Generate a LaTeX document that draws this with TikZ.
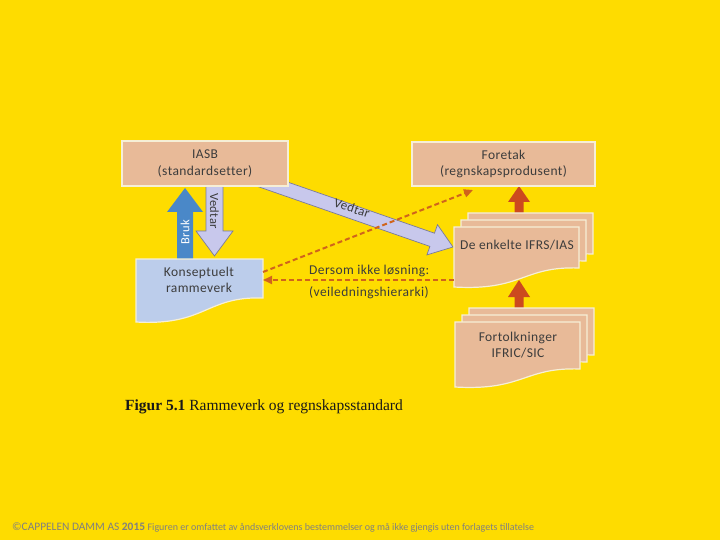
\documentclass[tikz,border=0pt]{standalone}
\usepackage{fontspec}
\setmainfont{Carlito}
\newfontfamily\boxfont[LetterSpace=3,Ligatures=NoCommon]{Carlito}
\newfontfamily\capfont{Liberation Serif}
\usetikzlibrary{arrows.meta,calc}
\definecolor{bg}{HTML}{FEDC00}
\definecolor{salmon}{HTML}{E8BA98}
\definecolor{lblue}{HTML}{BCCDEB}
\definecolor{lav}{HTML}{C8C8EC}
\definecolor{lavedge}{HTML}{7A7A98}
\definecolor{bluearr}{HTML}{4A88C8}
\definecolor{redarr}{HTML}{CC4A1E}
\definecolor{dashc}{HTML}{D0641C}
\definecolor{txt}{HTML}{3C3C3C}
\definecolor{edgec}{HTML}{F6EFD6}
\newcommand\docpath[6]{%
  \filldraw[fill=#1,draw=edgec,line width=1.2pt] (#2,#3) -- ++(#4,0) -- ++(0,#5)
   .. controls +(-0.45*#4,-2) and +(0.55*#4,4) .. (#2,#3+#6) -- cycle;}
\tikzset{
  boxtxt/.style={text=txt,font=\boxfont\fontsize{13.5}{16.5}\selectfont,align=center,inner sep=0pt},
  plainbox/.style={fill=salmon,draw=edgec,line width=1.2pt,boxtxt},
  dasharrow/.style={draw=dashc,line width=2pt,dash pattern=on 5pt off 3pt,-{Triangle[length=9pt,width=8pt]}},
  lavarrow/.style={fill=lav,draw=lavedge,line width=0.7pt},
}
\begin{document}
\begin{tikzpicture}[x=1pt,y=-1pt]
\fill[bg] (0,0) rectangle (720,540);
\useasboundingbox (0,0) rectangle (720,540);

% diagonal lavender arrow (Vedtar)
\filldraw[lavarrow] (256.3,186) -- (280,179.4) -- (434.5,233.2) -- (437.5,224.7)
  -- (453,247) -- (426.9,254.9) -- (429.9,246.4) -- cycle;
\node[text=txt,font=\boxfont\fontsize{13}{14}\selectfont,rotate=-19.2,inner sep=0pt] (vedtar2) at (352,208) {Vedtar};

% blue arrow Bruk
\fill[bluearr] (177,259) -- (177,212) -- (167,212) -- (185,188) -- (203,212) -- (193,212) -- (193,259) -- cycle;
\node[text=white,font=\boxfont\fontsize{12.5}{14}\selectfont,rotate=90,inner sep=0pt] (bruk) at (185,232) {Bruk};

% down lavender arrow Vedtar
\filldraw[lavarrow] (206,180) -- (206,231) -- (196,231) -- (214.5,256) -- (233,231) -- (223,231) -- (223,180) -- cycle;
\node[text=txt,font=\boxfont\fontsize{12.5}{14}\selectfont,rotate=-90,inner sep=0pt] (vedtar1) at (214.5,211) {Vedtar};

% red arrows
\fill[redarr] (514.5,214) -- (514.5,202) -- (508,202) -- (519,186) -- (530,202) -- (523.5,202) -- (523.5,214) -- cycle;
\fill[redarr] (514.5,310) -- (514.5,297) -- (508,297) -- (519,280) -- (530,297) -- (523.5,297) -- (523.5,310) -- cycle;

% boxes
\node[plainbox,minimum width=166pt,minimum height=45pt] (iasb) at (205,163.5) {IASB\\(standardsetter)};
\node[plainbox,minimum width=183pt,minimum height=44pt] (foretak) at (503.5,164) {Foretak\\(regnskapsprodusent)};

\docpath{lblue}{136}{259}{127}{39}{63}
\node[boxtxt] (kons) at (199,280) {Konseptuelt\\rammeverk};

\docpath{salmon}{468}{213}{125}{41}{60}
\docpath{salmon}{461}{220}{125}{41}{60}
\docpath{salmon}{454}{227}{125}{41}{60}
\node[boxtxt] (ifrs) at (517,245) {De enkelte IFRS/IAS};

\docpath{salmon}{469}{308}{125}{47}{65}
\docpath{salmon}{462}{315}{125}{47}{65}
\docpath{salmon}{455}{322}{125}{47}{65}
\node[boxtxt] (fort) at (518,345) {Fortolkninger\\IFRIC/SIC};

% dashed arrows
\coordinate (d1s) at (263,272);
\coordinate (d1e) at (473,190);
\coordinate (d2s) at (454,280);
\coordinate (d2e) at (263,280);
\draw[dasharrow] (d1s) -- (d1e);
\draw[dasharrow] (d2s) -- (d2e);
\node[boxtxt,anchor=base west] (ds1) at (309,274) {Dersom ikke løsning:};
\node[boxtxt,anchor=base west] (ds2) at (309,296) {(veiledningshierarki)};

% caption
\node[anchor=base west,inner sep=0pt,text=black!90,font=\capfont\fontsize{15.5}{18}\selectfont] (cap) at (125,410)
  {\textbf{Figur 5.1} Rammeverk og regnskapsstandard};

% footer
\node[anchor=base west,inner sep=0pt,text=black!50] (foot) at (12,530)
  {\fontsize{11.4}{13}\selectfont ©CAPPELEN DAMM AS \textbf{2015} \fontsize{10}{12}\selectfont Figuren er omfattet av åndsverklovens bestemmelser og må ikke gjengis uten forlagets tillatelse};
\end{tikzpicture}
\end{document}
